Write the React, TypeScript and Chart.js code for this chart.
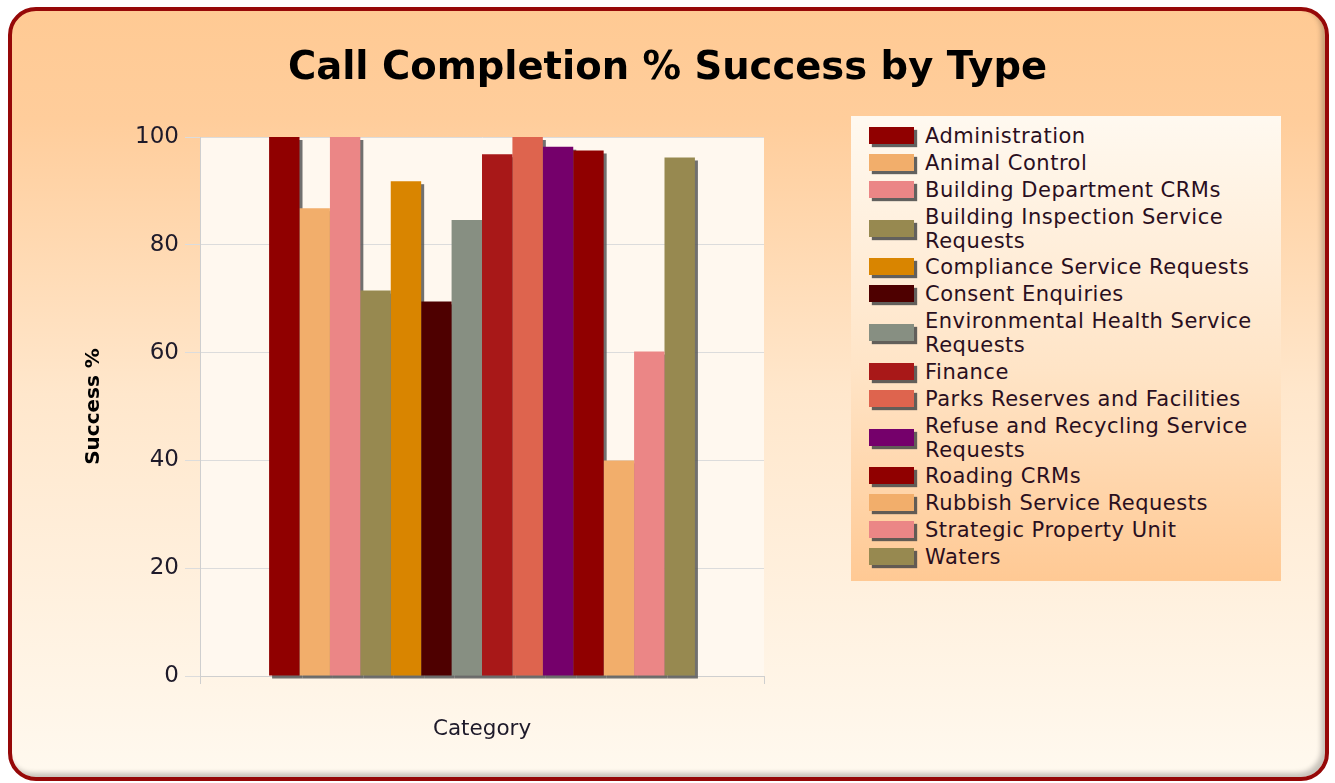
import React, { useEffect, useRef } from 'react';
import { Chart, registerables } from 'chart.js';

Chart.register(...registerables);

// ---------- data ----------
const categories = [''];
const seriesNames = [
  'Administration',
  'Animal Control',
  'Building Department CRMs',
  'Building Inspection Service Requests',
  'Compliance Service Requests',
  'Consent Enquiries',
  'Environmental Health Service Requests',
  'Finance',
  'Parks Reserves and Facilities',
  'Refuse and Recycling Service Requests',
  'Roading CRMs',
  'Rubbish Service Requests',
  'Strategic Property Unit',
  'Waters',
];
const seriesValues = [100, 86.8, 100, 71.5, 91.8, 69.5, 84.6, 96.8, 100, 98.2, 97.5, 40, 60.2, 96.2];
const seriesColors = [
  '#900000', '#F2AE6B', '#EB8686', '#978950', '#D98500', '#4E0000', '#878F82',
  '#A81818', '#DE644E', '#75006B', '#900000', '#F2AE6B', '#EB8686', '#978950',
];
const yMin = 0;
const yMax = 100;
const yStep = 20;
const titleText = 'Call Completion % Success by Type';
const yTitle = 'Success %';
const xTitle = 'Category';

const FONT = "'DejaVu Sans', Verdana, sans-serif";

const plotBackground = {
  id: 'plotBackground',
  beforeDraw(chart: any) {
    const { ctx, chartArea } = chart;
    if (!chartArea) return;
    ctx.save();
    ctx.fillStyle = '#FFF8EF';
    ctx.fillRect(chartArea.left, chartArea.top, chartArea.right - chartArea.left, chartArea.bottom - chartArea.top);
    ctx.restore();
  },
};

const barShadow = {
  id: 'barShadow',
  beforeDatasetsDraw(chart: any) {
    const ctx = chart.ctx;
    ctx.save();
    ctx.fillStyle = 'rgba(88,88,88,0.85)';
    chart.data.datasets.forEach((_: any, i: number) => {
      const meta = chart.getDatasetMeta(i);
      meta.data.forEach((el: any) => {
        const p = el.getProps(['x', 'y', 'base', 'width'], true);
        ctx.fillRect(p.x - p.width / 2 + 3, p.y + 3, p.width, p.base - p.y);
      });
    });
    ctx.restore();
  },
};

export default function App() {
  const ref = useRef<HTMLCanvasElement>(null);

  useEffect(() => {
    const chart = new Chart(ref.current as HTMLCanvasElement, {
      type: 'bar',
      data: {
        labels: categories,
        datasets: seriesNames.map((name, i) => ({
          label: name,
          data: [seriesValues[i]],
          backgroundColor: seriesColors[i],
          borderWidth: 0,
          categoryPercentage: 0.755,
          barPercentage: 1,
        })),
      },
      options: {
        responsive: false,
        animation: false,
        devicePixelRatio: 1,
        layout: { padding: 0 },
        plugins: {
          legend: { display: false },
          tooltip: { enabled: false },
          title: {
            display: true,
            text: titleText,
            color: '#000000',
            font: { family: FONT, size: 38.5, weight: 'bold', lineHeight: 1.2 },
            padding: { top: 46, bottom: 44.8 },
          },
        },
        scales: {
          x: {
            type: 'category',
            position: 'bottom',
            offset: true,
            grid: {
              display: true,
              offset: true,
              drawOnChartArea: false,
              drawTicks: true,
              tickLength: 8,
              color: '#CFCFCF',
            },
            border: { display: true, color: '#CFCFCF' },
            ticks: { display: true, font: { family: FONT, size: 16 } },
            title: {
              display: true,
              text: xTitle,
              color: '#1E1A2A',
              font: { family: FONT, size: 21.5, lineHeight: 1.2 },
              padding: { top: 0, bottom: 40.4 },
            },
            afterFit(scale: any) {
              scale.height = 107;
            },
          },
          y: {
            type: 'linear',
            position: 'left',
            min: yMin,
            max: yMax,
            ticks: {
              stepSize: yStep,
              padding: 6,
              color: '#1E1A2A',
              font: { family: FONT, size: 23 },
            },
            grid: {
              color: '#DCDCDC',
              tickLength: 15,
              drawTicks: true,
            },
            border: { display: true, color: '#CFCFCF' },
            title: {
              display: true,
              text: yTitle,
              color: '#000000',
              font: { family: FONT, size: 20, weight: 'bold', lineHeight: 1.2 },
              padding: { top: 81.5, bottom: 0 },
            },
            afterFit(scale: any) {
              scale.width = 200;
            },
          },
          yRight: {
            type: 'linear',
            position: 'right',
            display: true,
            min: yMin,
            max: yMax,
            grid: { display: false },
            border: { display: false },
            ticks: { display: false },
            afterFit(scale: any) {
              scale.width = 571;
            },
          },
        },
      } as any,
      plugins: [plotBackground, barShadow],
    });
    return () => chart.destroy();
  }, []);

  return (
    <div
      style={{
        position: 'fixed',
        left: 0,
        top: 0,
        width: 1335,
        height: 783,
        background: '#ffffff',
        overflow: 'hidden',
      }}
    >
      <div
        style={{
          position: 'absolute',
          left: 8,
          top: 7,
          width: 1321,
          height: 774,
          boxSizing: 'border-box',
          border: '4px solid #960808',
          borderRadius: 28,
          background: 'linear-gradient(to bottom, #FFCA94 0%, #FFCD9B 14%, #FFE7CC 50%, #FFF9EF 100%)',
          boxShadow: 'inset -4px -4px 5px rgba(0,0,0,0.22)',
        }}
      />
      <canvas
        ref={ref}
        width={1335}
        height={783}
        style={{ position: 'absolute', left: 0, top: 0, width: 1335, height: 783 }}
      />
      <div
        style={{
          position: 'absolute',
          left: 851,
          top: 116,
          width: 430,
          height: 465,
          boxSizing: 'border-box',
          paddingTop: 8,
          background: 'linear-gradient(to bottom, #FFF9F0 0%, #FFE4C6 55%, #FFC994 100%)',
          fontFamily: FONT,
          fontSize: 21,
          letterSpacing: '0.5px',
          color: '#2A0F1E',
        }}
      >
        {seriesNames.map((name, i) => (
          <div
            key={name}
            style={{
              position: 'relative',
              display: 'flex',
              alignItems: 'center',
              marginBottom: 2.85,
              minHeight: 24,
            }}
          >
            <div
              style={{
                position: 'absolute',
                left: 18,
                top: '50%',
                marginTop: -9,
                width: 45,
                height: 17,
                background: seriesColors[i],
                boxShadow: '3px 3px 1px rgba(70,70,70,0.85)',
              }}
            />
            <div
              style={{
                marginLeft: 74,
                width: 345,
                lineHeight: '24px',
                whiteSpace: 'normal',
              }}
            >
              {name}
            </div>
          </div>
        ))}
      </div>
    </div>
  );
}
